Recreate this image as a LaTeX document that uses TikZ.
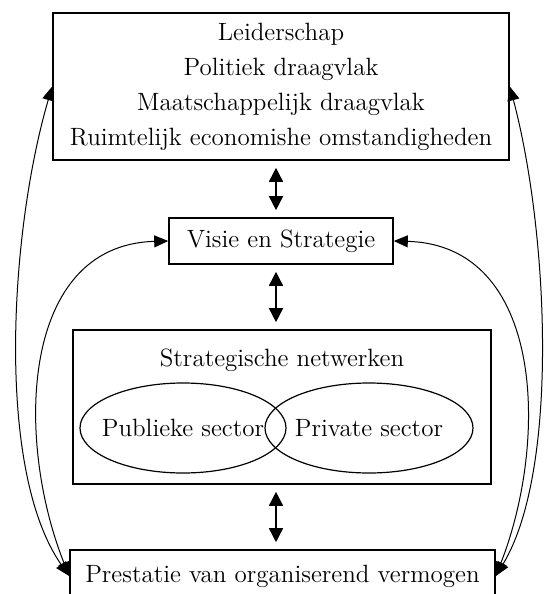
\documentclass[tikz,border=0pt]{standalone}
\usetikzlibrary{arrows.meta,shapes.geometric}
\begin{document}
\begin{tikzpicture}[x=0.5pt,y=-0.5pt,
  font=\fontsize{12.5}{17.5}\selectfont,
  box/.style={draw,line width=0.8pt,inner sep=0pt},
  sector/.style={ellipse,draw,line width=0.6pt,minimum height=45pt,inner sep=0pt},
  dbl/.style={{Triangle[length=7pt,width=7pt]}-{Triangle[length=7pt,width=7pt]},line width=0.8pt,shorten <=3.5pt,shorten >=3.5pt},
  loopline/.style={{Triangle[length=7pt,width=6pt]}-{Triangle[length=7pt,width=6pt]},line width=0.5pt}]
\clip (0,0) rectangle (545,594);
% boxes
\node[box,minimum width=228pt,minimum height=73.5pt,align=center] (lead) at (281,86.5)
  {Leiderschap\\Politiek draagvlak\\Maatschappelijk draagvlak\\Ruimtelijk economishe omstandigheden};
\node[box,minimum width=112pt,minimum height=23pt] (visie) at (281,241) {Visie en Strategie};
\node[box,minimum width=209pt,minimum height=77pt] (netw) at (282,407) {};
\node (netwtitle) at (282,360) {Strategische netwerken};
\node[sector,minimum width=103pt,label=center:{Publieke sector}] (publiek) at (183,428) {};
\node[sector,minimum width=104pt,label=center:{Private sector}] (privaat) at (369,428) {};
\node[box,minimum width=212.5pt,minimum height=26pt] (prest) at (282.5,576) {Prestatie van organiserend vermogen};
% vertical arrows
\draw[dbl] ([xshift=-2.5pt]lead.south) -- ([xshift=-2.5pt]visie.north);
\draw[dbl] ([xshift=-2.5pt]visie.south) -- ([xshift=-3pt]netw.north);
\draw[dbl] ([xshift=-3pt]netw.south) -- ([xshift=-3.25pt]prest.north);
% feedback loops
\draw[loopline] (prest.west) .. controls (-5,470) and (10,230) .. (lead.west);
\draw[loopline] (prest.west) .. controls (15,440) and (20,245) .. (visie.west);
\draw[loopline] (prest.east) .. controls (560,470) and (548,230) .. (lead.east);
\draw[loopline] (prest.east) .. controls (549,440) and (544,245) .. (visie.east);
\end{tikzpicture}
\end{document}
